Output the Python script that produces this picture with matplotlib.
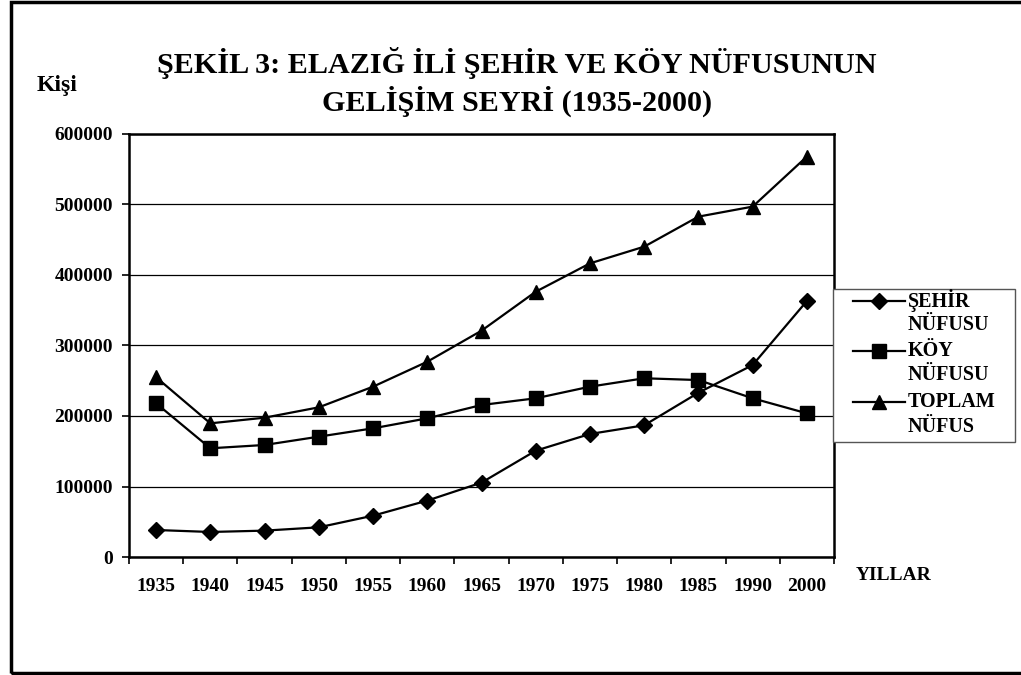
import matplotlib
matplotlib.use("Agg")
import matplotlib.pyplot as plt
from matplotlib.patches import Rectangle
from matplotlib.lines import Line2D

years = ["1935", "1940", "1945", "1950", "1955", "1960", "1965",
         "1970", "1975", "1980", "1985", "1990", "2000"]
sehir = [38300, 35500, 37400, 42100, 58600, 80000, 105500,
         150800, 174500, 186800, 233000, 272300, 363100]
koy = [218000, 154200, 158900, 170700, 182500, 196700, 215600,
       225100, 241600, 253500, 251000, 225100, 203800]
toplam = [254900, 189600, 197600, 212300, 241600, 277000, 321000,
          376300, 416500, 440200, 482800, 497000, 568000]
labels = ["ŞEHİR\nNÜFUSU", "KÖY\nNÜFUSU", "TOPLAM\nNÜFUS"]
yticks = [0, 100000, 200000, 300000, 400000, 500000, 600000]

plt.rcParams['font.family'] = ['Liberation Serif', 'DejaVu Serif']
plt.rcParams['font.weight'] = 'bold'

W, H = 1021, 675
fig = plt.figure(figsize=(W/100, H/100), dpi=100)
ax = fig.add_axes([129/W, 1-557/H, 705/W, 423/H])

x = list(range(len(years)))
styles = [dict(marker='D', ms=8.5), dict(marker='s', ms=9.5), dict(marker='^', ms=10)]
series = [sehir, koy, toplam]
for vals, st in zip(series, styles):
    ax.plot(x, vals, color='black', lw=1.6, **st)

ax.set_xlim(-0.5, len(years) - 0.5)
ax.set_ylim(0, 600000)
ax.set_yticks(yticks)
ax.set_yticklabels([str(v) for v in yticks], fontsize=14, fontweight='bold')
ax.set_xticks(x)
ax.set_xticklabels(years, fontsize=14, fontweight='bold')
ax.set_xticks([i - 0.5 for i in range(len(years) + 1)], minor=True)
ax.tick_params(axis='x', which='major', length=0, pad=15)
ax.tick_params(axis='x', which='minor', length=5, width=1.2, direction='out')
ax.tick_params(axis='y', which='major', length=5, width=1.2, direction='out', pad=6.5)
ax.yaxis.grid(True, color='black', lw=0.9)
ax.set_axisbelow(True)
for s in ax.spines.values():
    s.set_linewidth(1.8)
    s.set_color('black')

fig.text(517/W, 1-63/H, "ŞEKİL 3: ELAZIĞ İLİ ŞEHİR VE KÖY NÜFUSUNUN",
         ha='center', va='center', fontsize=21.7, fontweight='bold')
fig.text(517/W, 1-101/H, "GELİŞİM SEYRİ (1935-2000)",
         ha='center', va='center', fontsize=21.7, fontweight='bold')
fig.text(57/W, 1-85/H, "Kişi", ha='center', va='center',
         fontsize=17, fontweight='bold')
fig.text(894/W, 1-576/H, "YILLAR", ha='center', va='center',
         fontsize=14, fontweight='bold')

# legend (drawn manually so the handle sits on the first label line)
fig.patches.append(Rectangle((833/W, 1-442/H), 182/W, 153/H, transform=fig.transFigure,
                             facecolor='white', edgecolor='#555555', lw=1.0, zorder=5))
row_y = [301, 351, 402]
for lab, st, ry in zip(labels, styles, row_y):
    fig.add_artist(Line2D([853/W, 905/W], [1-ry/H, 1-ry/H], transform=fig.transFigure,
                          color='black', lw=1.6, zorder=6))
    fig.add_artist(Line2D([879/W], [1-ry/H], transform=fig.transFigure, color='black',
                          linestyle='none', zorder=7, **st))
    l1, l2 = lab.split("\n")
    fig.text(908/W, 1-ry/H, l1, ha='left', va='center', fontsize=14.5,
             fontweight='bold', zorder=7)
    fig.text(908/W, 1-(ry+24.5)/H, l2, ha='left', va='center', fontsize=14.5,
             fontweight='bold', zorder=7)

fig.patches.append(Rectangle((11/W, 1-673/H), 1.5, 671/H, transform=fig.transFigure,
                             fill=False, edgecolor='black', lw=2.5))

fig.savefig("out.png", dpi=100, facecolor='white')
